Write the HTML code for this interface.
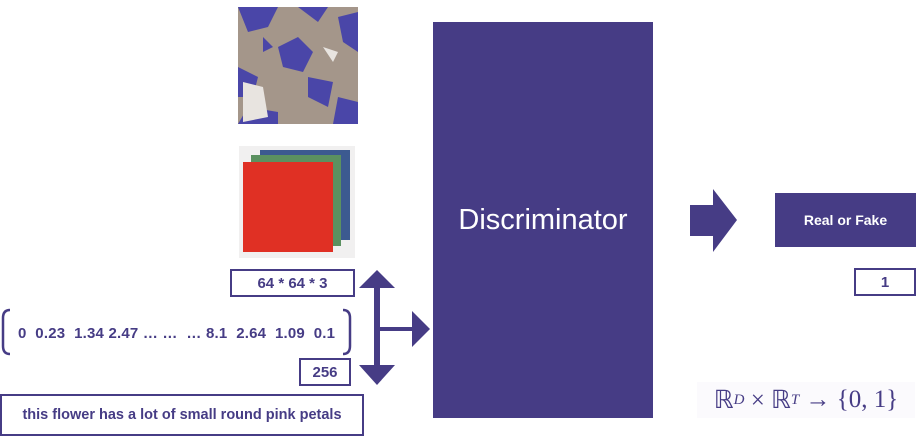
<!DOCTYPE html>
<html><head><meta charset="utf-8"><style>
body{margin:0;width:916px;height:437px;background:#fff;position:relative;overflow:hidden;font-family:"Liberation Sans",sans-serif;color:#463c85}
.a{position:absolute}
.box{position:absolute;border:2px solid #463c85;box-sizing:border-box;display:flex;align-items:center;justify-content:center;font-weight:bold;font-size:15px;color:#463c85}
</style></head><body>
<svg class="a" style="left:238px;top:7px" width="120" height="117">
<rect width="120" height="117" fill="#a4968a"/>
<path d="M0 0h40l-10 20l-20 5z M60 0h30l-10 15z M100 10l20-5v40l-15-10z M40 40l20-10l15 15l-10 20l-20-5z M0 60l20 10l-5 20l-15 0z M70 70l25 5l-5 25l-20-10z M10 100l30 5v12h-40z M100 90l20 5v22h-25z M25 30l10 10l-10 5z" fill="#4a46a8"/>
<path d="M5 75l20 5l5 30l-25 5z M85 40l15 5l-5 10z" fill="#e8e4e0"/>
</svg>
<svg class="a" style="left:239px;top:146px" width="116" height="112">
<rect width="116" height="112" fill="#f1f0f0"/>
<rect x="21" y="4" width="90" height="90" fill="#3c5a90"/>
<rect x="12" y="9" width="90" height="91" fill="#5b9160"/>
<rect x="4" y="16" width="90" height="90" fill="#e03024"/>
</svg>
<div class="box" style="left:230px;top:269px;width:125px;height:28px">64 * 64 * 3</div>
<svg class="a" style="left:0;top:305px" width="360" height="52">
<path d="M10 5q-7 0-7 8v28q0 8 7 8" fill="none" stroke="#463c85" stroke-width="2.5"/>
<path d="M343 5q7 0 7 8v28q0 8-7 8" fill="none" stroke="#463c85" stroke-width="2.5"/>
<text x="18" y="33" font-size="15" font-weight="bold" fill="#463c85" font-family="Liberation Sans" textLength="317" lengthAdjust="spacing" xml:space="preserve">0  0.23  1.34 2.47 … …  … 8.1  2.64  1.09  0.1</text>
</svg>
<div class="box" style="left:299px;top:358px;width:52px;height:28px">256</div>
<div class="box" style="left:0;top:394px;width:364px;height:42px;font-size:14.5px">this flower has a lot of small round pink petals</div>
<svg class="a" style="left:355px;top:265px" width="80" height="125">
<g fill="#463c85">
<polygon points="22,5 40,23 4,23"/>
<rect x="19" y="22" width="6" height="80"/>
<polygon points="4,100 40,100 22,120"/>
<rect x="22" y="62" width="42" height="4"/>
<polygon points="57,46 75,64 57,82"/>
</g></svg>
<div class="a" style="left:433px;top:22px;width:220px;height:396px;background:#463c85;color:#fff;font-size:29px;display:flex;align-items:center;justify-content:center">Discriminator</div>
<svg class="a" style="left:690px;top:189px" width="48" height="64">
<polygon points="0,16 23,16 23,0 47,31 23,63 23,47 0,47" fill="#463c85"/></svg>
<div class="a" style="left:775px;top:193px;width:141px;height:54px;background:#463c85;color:#fff;font-size:14px;font-weight:bold;display:flex;align-items:center;justify-content:center">Real or Fake</div>
<div class="box" style="left:854px;top:268px;width:62px;height:28px">1</div>
<div class="a" style="left:697px;top:382px;width:218px;height:36px;background:#fbfafd;font-family:'Liberation Serif',serif;font-size:25px;color:#463c85;display:flex;align-items:center;justify-content:center;white-space:nowrap">ℝ<sup style="font-size:15px;font-style:italic">D</sup>&nbsp;×&nbsp;ℝ<sup style="font-size:15px;font-style:italic">T</sup>&nbsp;→&nbsp;{0, 1}</div>
</body></html>
